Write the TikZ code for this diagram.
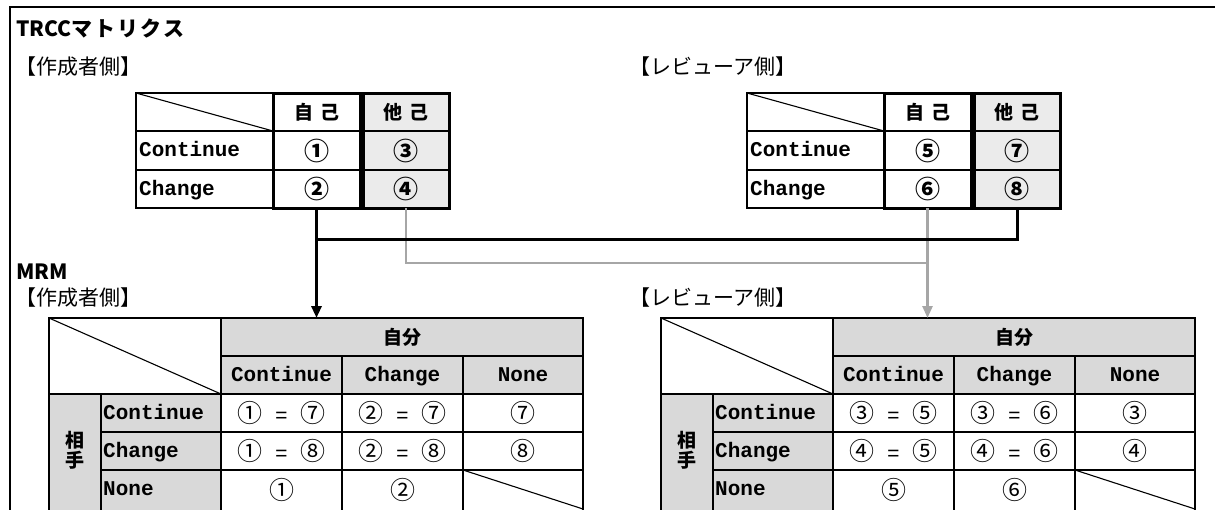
\documentclass[tikz,border=0pt]{standalone}
\usepackage{fontspec}
\setmainfont{Noto Sans CJK JP}
\newfontfamily\jpf{Noto Sans CJK JP}
\newfontfamily\jpsp{Noto Sans CJK JP}[LetterSpace=10]
\newfontfamily\monof{Liberation Mono}
\usetikzlibrary{arrows.meta}
\definecolor{hdrgray}{HTML}{D9D9D9}
\definecolor{litegray}{HTML}{EBEBEB}
\definecolor{linkgray}{HTML}{A6A6A6}
\tikzset{
  frameline/.style={line width=2.5pt, black},
  gridline/.style={line width=1.6pt, black},
  diagline/.style={line width=1.1pt, black},
  thickcol/.style={draw=black, line width=3pt, inner sep=0pt, outer sep=0pt, anchor=north west, minimum height=115pt},
  hdrcell/.style={fill=hdrgray, inner sep=0pt, outer sep=0pt, font=\jpf\bfseries\fontsize{19}{22}\selectfont},
  monotxt/.style={font=\monof\bfseries\fontsize{21}{24}\selectfont, inner sep=0pt, text height=12pt, text depth=0pt},
  hdrjp/.style={font=\jpf\bfseries\fontsize{19}{22}\selectfont, inner sep=0pt},
  numbold/.style={font=\jpf\bfseries\fontsize{25}{28}\selectfont, inner sep=0pt},
  numthin/.style={font=\jpf\fontsize{25}{28}\selectfont, inner sep=0pt},
  titlebf/.style={font=\jpf\bfseries\fontsize{21}{24}\selectfont, inner sep=0pt, anchor=west},
  sidelbl/.style={font=\jpf\fontsize{21}{24}\selectfont, inner sep=0pt, anchor=west},
  blackarrow/.style={line width=3pt, black, -{Triangle[length=12pt,width=10pt]}},
  blackline/.style={line width=3pt, black},
  grayarrow/.style={line width=2.5pt, linkgray, -{Triangle[length=12pt,width=10pt]}},
  grayline/.style={line width=2.5pt, linkgray},
}
\newcommand\mytoptab[6]{%
  \begin{scope}[shift={(#2,0)}]
    \draw[gridline] (0,93) rectangle (313,208);
    \draw[diagline] (0,93) -- (137,131);
    \node[thickcol, minimum width=87pt] (#1jiko) at (137,93) {};
    \node[thickcol, fill=litegray, minimum width=86pt] (#1tako) at (227,93) {};
    \draw[gridline] (0,131) -- (313,131) (0,170) -- (313,170);
    \node[hdrjp] (#1hjiko) at (181,112) {自\hspace{7pt}己};
    \node[hdrjp] (#1htako) at (270,112) {他\hspace{7pt}己};
    \node[monotxt, anchor=west] (#1rcont) at (3,150.5) {Continue};
    \node[monotxt, anchor=west] (#1rchg) at (3,189) {Change};
    \node[numbold] (#1n1) at (181,150.5) {#3};
    \node[numbold] (#1n2) at (270,150.5) {#4};
    \node[numbold] (#1n3) at (181,189) {#5};
    \node[numbold] (#1n4) at (270,189) {#6};
  \end{scope}}
\newcommand\mybottab[2]{%
  \begin{scope}[shift={(#2,0)}]
    \node[hdrcell, minimum width=362pt, minimum height=38pt] (#1jibun) at (353,337) {自分};
    \fill[hdrgray] (172,356) rectangle (534,394);
    \fill[hdrgray] (0,394) rectangle (172,512);
    \draw[gridline] (0,512) -- (0,318) -- (534,318) -- (534,512);
    \draw[gridline] (172,318) -- (172,512) (52,394) -- (52,512)
                    (293,356) -- (293,512) (414,356) -- (414,512);
    \draw[gridline] (172,356) -- (534,356) (0,394) -- (534,394)
                    (52,432) -- (534,432) (52,470) -- (534,470);
    \draw[diagline] (0,318) -- (172,394) (414,470) -- (534,509);
    \node[monotxt] (#1hcont) at (232.5,375) {Continue};
    \node[monotxt] (#1hchg) at (353.5,375) {Change};
    \node[monotxt] (#1hnone) at (474,375) {None};
    \node[hdrjp, align=center, font=\jpf\bfseries\fontsize{19}{20}\selectfont] (#1aite) at (26,450) {相\\手};
    \node[monotxt, anchor=west] (#1rcont) at (54,413) {Continue};
    \node[monotxt, anchor=west] (#1rchg) at (54,451) {Change};
    \node[monotxt, anchor=west] (#1rnone) at (54,489.5) {None};
  \end{scope}}
\newcommand\eqcell[2]{#1{\monof\fontsize{21}{24}\selectfont\ =\ }#2}
\begin{document}
\begin{tikzpicture}[x=1pt,y=-1pt]
  \useasboundingbox (0,0) rectangle (1215,509);
  \draw[frameline] (10,515) -- (10,7) -- (1220,7);
  % titles
  \node[titlebf] (ttrcc) at (16,28) {TRCC{\jpsp マトリクス}};
  \node[sidelbl] (stl) at (15,67) {【作成者側】};
  \node[sidelbl] (str) at (629,67) {【レビューア側】};
  \node[titlebf] (tmrm) at (16,272) {MRM};
  \node[sidelbl] (sbl) at (15,298) {【作成者側】};
  \node[sidelbl] (sbr) at (629,298) {【レビューア側】};
  % top tables
  \mytoptab{L}{136}{①}{③}{②}{④}
  \mytoptab{R}{747}{⑤}{⑦}{⑥}{⑧}
  % bottom tables
  \mybottab{BL}{49}
  \mybottab{BR}{661}
  \begin{scope}[shift={(49,0)}]
    \node[numthin] (BLd11) at (232.5,413) {\eqcell{①}{⑦}};
    \node[numthin] (BLd12) at (353.5,413) {\eqcell{②}{⑦}};
    \node[numthin] (BLd13) at (474,413) {⑦};
    \node[numthin] (BLd21) at (232.5,451) {\eqcell{①}{⑧}};
    \node[numthin] (BLd22) at (353.5,451) {\eqcell{②}{⑧}};
    \node[numthin] (BLd23) at (474,451) {⑧};
    \node[numthin] (BLd31) at (232.5,489.5) {①};
    \node[numthin] (BLd32) at (353.5,489.5) {②};
  \end{scope}
  \begin{scope}[shift={(661,0)}]
    \node[numthin] (BRd11) at (232.5,413) {\eqcell{③}{⑤}};
    \node[numthin] (BRd12) at (353.5,413) {\eqcell{③}{⑥}};
    \node[numthin] (BRd13) at (474,413) {③};
    \node[numthin] (BRd21) at (232.5,451) {\eqcell{④}{⑤}};
    \node[numthin] (BRd22) at (353.5,451) {\eqcell{④}{⑥}};
    \node[numthin] (BRd23) at (474,451) {④};
    \node[numthin] (BRd31) at (232.5,489.5) {⑤};
    \node[numthin] (BRd32) at (353.5,489.5) {⑥};
  \end{scope}
  % connectors
  \draw[grayline] (Ltako.south) -- ++(0,55) -| (Rjiko.south);
  \draw[grayarrow] (Rjiko.south) -- (Rjiko.south |- BRjibun.north);
  \draw[blackline] (Rtako.south) -- ++(0,31) -| (Ljiko.south);
  \draw[blackarrow] (Ljiko.south) -- (Ljiko.south |- BLjibun.north);
\end{tikzpicture}
\end{document}
